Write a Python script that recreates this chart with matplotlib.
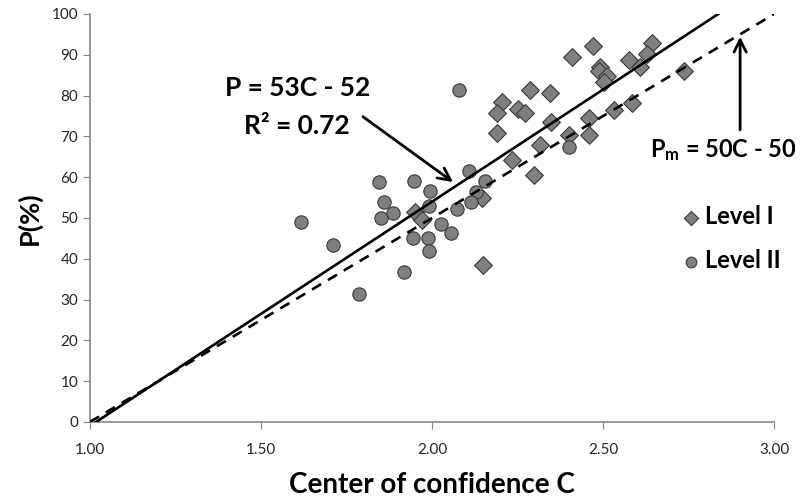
import numpy as np
import matplotlib
matplotlib.use('Agg')
import matplotlib.pyplot as plt

plt.rcParams['font.family'] = ['Lato', 'DejaVu Sans']
plt.rcParams['mathtext.fontset'] = 'custom'
plt.rcParams['mathtext.rm'] = 'Lato'
plt.rcParams['mathtext.bf'] = 'Lato:bold'

# Level I (diamonds)
level1_c = [1.950, 1.970, 2.148, 2.145, 2.470, 2.408, 2.642, 2.627, 2.574, 2.608,
            2.491, 2.489, 2.511, 2.501, 2.735, 2.285, 2.343, 2.204, 2.189, 2.250,
            2.272, 2.189, 2.348, 2.530, 2.584, 2.457, 2.457, 2.399, 2.316, 2.233,
            2.298]
level1_p = [51.5, 49.5, 38.5, 55.0, 92.2, 89.4, 92.8, 90.2, 88.7, 87.1,
            87.1, 85.9, 84.8, 83.2, 86.1, 81.4, 80.5, 78.5, 75.8, 76.6,
            75.7, 70.9, 73.4, 76.5, 78.1, 74.4, 70.3, 70.3, 67.9, 64.2,
            60.5]

# Level II (circles)
level2_c = [1.617, 1.711, 1.787, 1.846, 1.860, 1.850, 1.885, 1.948, 1.995, 1.990,
            1.943, 1.987, 1.990, 1.918, 2.025, 2.054, 2.072, 2.109, 2.155, 2.128,
            2.113, 2.079, 2.401]
level2_p = [49.1, 43.4, 31.4, 58.7, 54.0, 50.1, 51.3, 59.1, 56.6, 52.9,
            45.2, 45.2, 42.0, 36.7, 48.4, 46.2, 52.2, 61.6, 59.1, 56.3,
            53.8, 81.4, 67.3]

# fitted line (as drawn) and model line
fit_slope, fit_icpt = 55.0, -56.0
model_slope, model_icpt = 50.0, -50.0

fig = plt.figure(figsize=(8.1, 4.97), dpi=100)
ax = fig.add_axes([0.111, 0.151, 0.845, 0.821])

grey = '#7f7f7f'
edge = '#3a3a3a'
ax.scatter(level1_c, level1_p, marker='D', s=82, c=grey, edgecolors=edge,
           linewidths=0.8, zorder=3, label='Level I')
ax.scatter(level2_c, level2_p, marker='o', s=92, c=grey, edgecolors=edge,
           linewidths=0.8, zorder=4, label='Level II')

p_ends = np.array([0.0, 100.0])
ax.plot((p_ends - fit_icpt) / fit_slope, p_ends, color='black', lw=1.9, zorder=5)
c_model = np.array([1.0, 3.0])
ax.plot(c_model, model_slope * c_model + model_icpt, color='black', lw=1.9,
        ls=(0, (4, 3)), zorder=5)

ax.set_xlim(1.0, 3.0)
ax.set_ylim(0, 100)
ax.set_xticks([1.0, 1.5, 2.0, 2.5, 3.0])
ax.set_xticklabels(['1.00', '1.50', '2.00', '2.50', '3.00'])
ax.set_yticks(range(0, 101, 10))
for s in ['top', 'right']:
    ax.spines[s].set_visible(False)
for s in ['left', 'bottom']:
    ax.spines[s].set_color('#868686')
    ax.spines[s].set_linewidth(1.2)
ax.tick_params(axis='both', direction='out', length=5, color='#868686',
               labelsize=11, labelcolor='#262626')
ax.tick_params(axis='x', pad=10)

ax.set_xlabel('Center of confidence C', fontsize=20, fontweight='bold', labelpad=11)
ax.set_ylabel('P(%)', fontsize=19.5, fontweight='bold', labelpad=7)

ax.text(1.608, 81.9, 'P = 53C - 52', fontsize=19, fontweight='bold',
        ha='center', va='center')
ax.text(1.605, 72.5, 'R² = 0.72', fontsize=19, fontweight='bold',
        ha='center', va='center')
ax.annotate('', xy=(2.061, 58.8), xytext=(1.798, 74.8),
            arrowprops=dict(arrowstyle='->', lw=2, color='black',
                            mutation_scale=22, shrinkA=0, shrinkB=0))

ax.text(2.851, 66.7, r'$\mathbf{P_m}$ = 50C - 50', fontsize=17, fontweight='bold',
        ha='center', va='center')
ax.annotate('', xy=(2.90, 94.4), xytext=(2.90, 71.6),
            arrowprops=dict(arrowstyle='->', lw=2, color='black',
                            mutation_scale=22, shrinkA=0, shrinkB=0))

leg = ax.legend(loc='center left', bbox_to_anchor=(0.83, 0.45), frameon=False,
                prop={'size': 17, 'weight': 'bold'}, handletextpad=0.1,
                labelspacing=0.9, markerscale=0.8, handlelength=1.0)

fig.savefig('out.png', dpi=100)
